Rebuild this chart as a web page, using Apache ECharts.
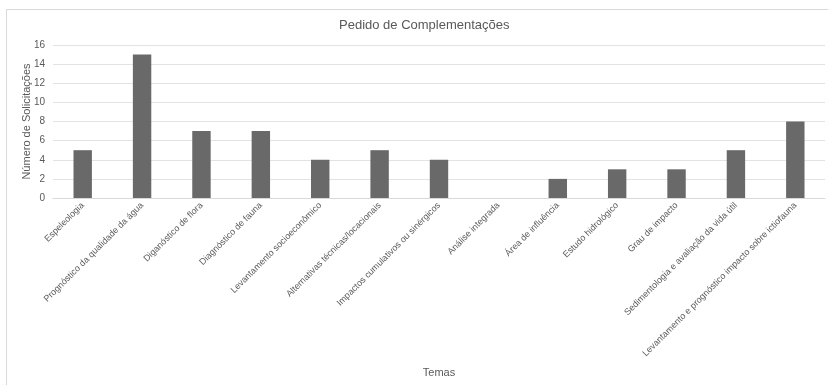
<!DOCTYPE html>
<html><head><meta charset="utf-8">
<script src="https://cdn.jsdelivr.net/npm/echarts@6/dist/echarts.min.js"></script>
<style>html,body{margin:0;padding:0;background:#fff}#c{width:828px;height:385px}</style>
</head><body><div id="c"></div>
<script>
const categories = ["Espeleologia","Prognóstico da qualidade da água","Diganóstico de flora","Diagnóstico de fauna","Levantamento socioeconômico","Alternativas técnicas/locacionais","Impactos cumulativos ou sinérgicos","Análise integrada","Área de influência","Estudo hidrológico","Grau de impacto","Sedimentologia e avaliação da vida útil","Levantamento e prognóstico impacto sobre ictiofauna"];
const values = [5,15,7,7,4,5,4,0,2,3,3,5,8];
const yTicks = [0,2,4,6,8,10,12,14,16];
const chart = echarts.init(document.getElementById('c'));
const txt = '#595959';
const font = '"Liberation Sans", Arial, sans-serif';
chart.setOption({
  animation:false,
  textStyle:{fontFamily:font},
  title:{text:'Pedido de Complementações',left:334,top:14,textStyle:{fontSize:13,fontWeight:'normal',color:txt,fontFamily:font}},
  graphic:[{type:'rect',shape:{x:6.5,y:9.5,width:900,height:400},style:{fill:'none',stroke:'#d9d9d9',lineWidth:1},silent:true,z:-1}],
  grid:{left:53,right:3,top:45,bottom:187,containLabel:false},
  xAxis:{type:'category',data:categories,name:'Temas',nameLocation:'middle',nameGap:169,nameMoveOverlap:false,
    nameTextStyle:{color:txt,fontSize:11,fontFamily:font},
    axisLine:{lineStyle:{color:'#d9d9d9'}},axisTick:{show:false},
    axisLabel:{interval:0,rotate:45,fontSize:9,color:txt,margin:6,fontFamily:font}},
  yAxis:{type:'value',min:0,max:16,interval:2,name:'Número de Solicitações',nameLocation:'middle',nameGap:21,nameMoveOverlap:false,
    nameTextStyle:{color:txt,fontSize:11,fontFamily:font},
    axisLine:{show:false},axisTick:{show:false},
    axisLabel:{color:txt,fontSize:10,margin:8,fontFamily:font,formatter:v=>yTicks.includes(v)?String(v):''},
    splitLine:{lineStyle:{color:'#e3e3e3'}}},
  series:[{type:'bar',data:values,barWidth:'31%',itemStyle:{color:'#696969'}}]
});
</script></body></html>
